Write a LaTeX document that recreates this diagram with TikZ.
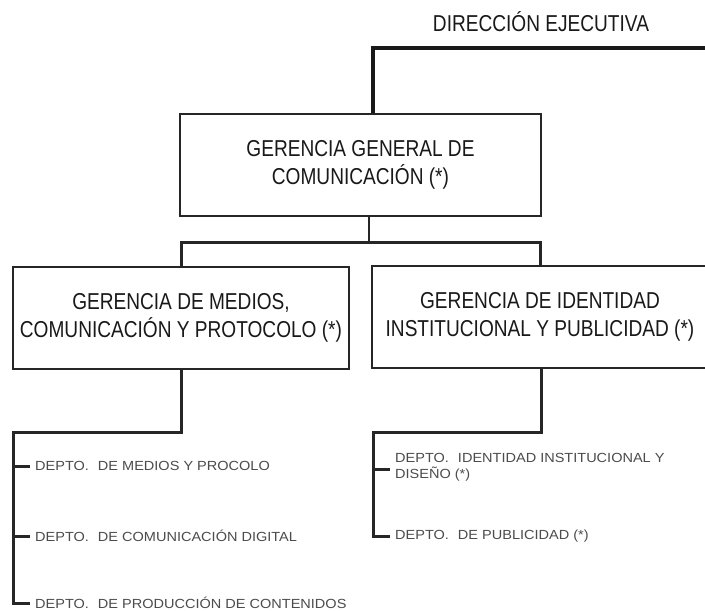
\documentclass[tikz,border=0pt]{standalone}
\usepackage{fontspec}
\setmainfont{Liberation Sans}
\newfontfamily\hdrfont[FakeStretch=0.83]{Liberation Sans}
\newfontfamily\dptfont[FakeStretch=1.1]{Liberation Sans}
\begin{document}
\begin{tikzpicture}[x=1pt,y=-1pt,
  box/.style={draw=black!85,line width=2pt,minimum height=102pt,align=center,inner sep=0pt,
    font=\hdrfont\fontsize{23}{28}\selectfont,text=black!90},
  conn/.style={draw=black!85,line width=3pt},
  thinconn/.style={draw=black!85,line width=2.5pt},
  topline/.style={draw=black!90,line width=4pt},
  dept/.style={anchor=west,inner xsep=5pt,inner ysep=0pt,align=left,
    font=\dptfont\fontsize{13.2}{16}\selectfont,text=black!70},
  title/.style={font=\hdrfont\fontsize{23}{28}\selectfont,text=black!90,inner sep=0pt}]
\useasboundingbox (0,0) rectangle (705,611);
\clip (0,0) rectangle (705,611);
\fill[white] (0,0) rectangle (705,611);

\node[title] (dir) at (541,22) {DIRECCIÓN EJECUTIVA};
\coordinate (de) at (708,48);

\node[box,minimum width=361pt] (gg) at (360.5,165) {GERENCIA GENERAL DE\\COMUNICACIÓN (*)};
\node[box,minimum width=336pt] (gm) at (181,318) {GERENCIA DE MEDIOS,\\COMUNICACIÓN Y PROTOCOLO (*)};
\node[box,minimum width=336pt] (gi) at (540,317) {GERENCIA DE IDENTIDAD\\INSTITUCIONAL Y PUBLICIDAD (*)};

\node[dept] (d1) at (30,466) {DEPTO.\hspace{9pt}DE MEDIOS Y PROCOLO};
\node[dept] (d2) at (30,536) {DEPTO.\hspace{9pt}DE COMUNICACIÓN DIGITAL};
\node[dept] (d3) at (30,603) {DEPTO.\hspace{9pt}DE PRODUCCIÓN DE CONTENIDOS};
\node[dept] (d4) at (390,467) {DEPTO.\hspace{9pt}IDENTIDAD INSTITUCIONAL Y\\DISEÑO (*)};
\node[dept] (d5) at (390,536) {DEPTO.\hspace{9pt}DE PUBLICIDAD (*)};

% top connector
\draw[topline] (de) -| ([xshift=12.5pt]gg.north);

% general -> gerencias
\coordinate (j1) at (369,242);
\draw[thinconn] ([xshift=8.5pt]gg.south) -- (j1);
\draw[conn] (gm.north) |- (j1) -| (gi.north);

% left departments
\coordinate (l0) at (13,432);
\draw[conn] (gm.south) |- (l0) |- (d3.west);
\draw[conn] (l0) |- (d1.west);
\draw[conn] (l0) |- (d2.west);

% right departments
\coordinate (r0) at (373,432);
\draw[conn] ([xshift=1pt]gi.south) |- (r0) |- (d5.west);
\draw[conn] (r0) |- ([yshift=-2pt]d4.west);
\end{tikzpicture}
\end{document}
